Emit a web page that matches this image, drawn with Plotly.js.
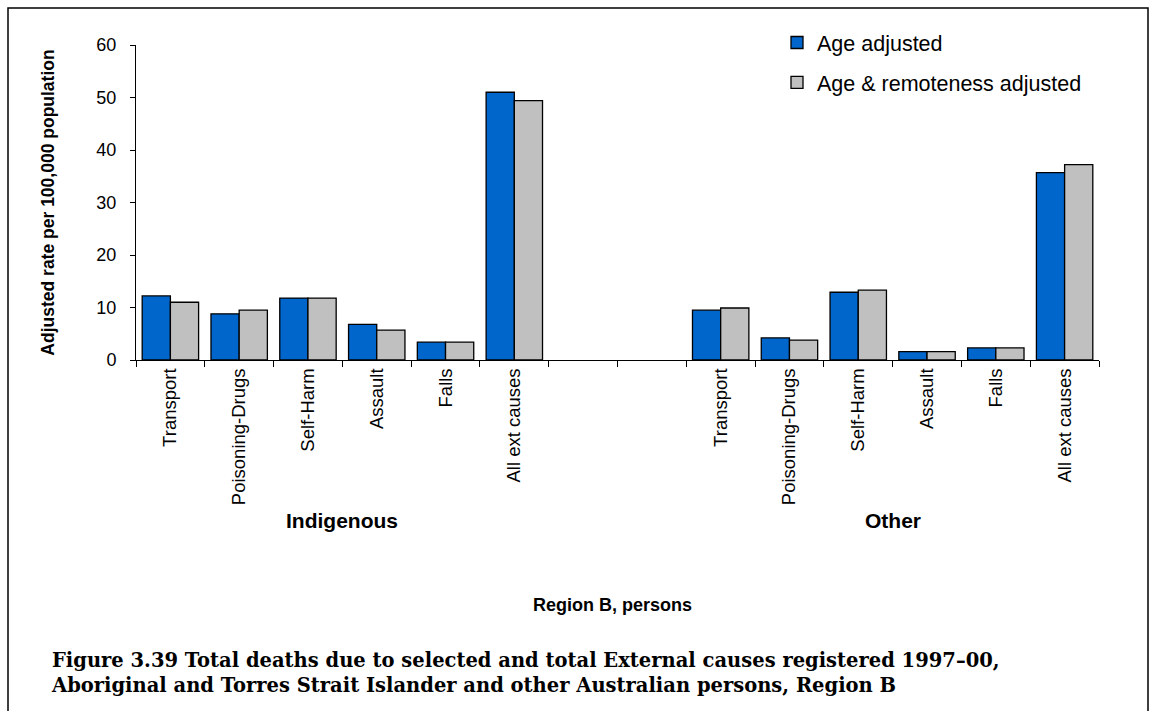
<!DOCTYPE html>
<html>
<head>
<meta charset="utf-8">
<script src="https://cdn.plot.ly/plotly-3.0.1.min.js"></script>
<style>html,body{margin:0;padding:0;background:#fff;}</style>
</head>
<body>
<div id="chart" style="width:1156px;height:711px;"></div>
<script>
// Data
const groups = ["Indigenous", "Other"];
const causes = ["Transport", "Poisoning-Drugs", "Self-Harm", "Assault", "Falls", "All ext causes"];
const seriesNames = ["Age adjusted", "Age & remoteness adjusted"];
const indigenousAge = [12.2, 8.8, 11.8, 6.8, 3.4, 51.0];
const indigenousAgeRemote = [11.0, 9.5, 11.8, 5.7, 3.4, 49.4];
const otherAge = [9.5, 4.2, 12.9, 1.6, 2.3, 35.7];
const otherAgeRemote = [9.9, 3.8, 13.3, 1.6, 2.3, 37.2];
const gapSlots = 2;

// Build category ids (unique) and tick labels
const catIds = [], catLabels = [];
causes.forEach(c => { catIds.push("Indigenous|" + c); catLabels.push(c); });
for (let i = 0; i < gapSlots; i++) { catIds.push("gap" + i); catLabels.push(""); }
causes.forEach(c => { catIds.push("Other|" + c); catLabels.push(c); });

const xInd = causes.map(c => "Indigenous|" + c);
const xOth = causes.map(c => "Other|" + c);

const colors = ["#0066CC", "#C0C0C0"];
const traces = [
  {name: seriesNames[0], x: xInd.concat(xOth), y: indigenousAge.concat(otherAge)},
  {name: seriesNames[1], x: xInd.concat(xOth), y: indigenousAgeRemote.concat(otherAgeRemote)}
].map((t, i) => Object.assign(t, {
  type: "bar",
  legendgroup: "g" + i,
  marker: {color: colors[i], line: {color: "#000", width: 1.3}},
  hoverinfo: "skip"
}));

const L = 136, R = 1099, T = 45, B = 360.5, W = 1156, H = 711;
const px = v => (v - L) / (R - L);
const py = v => (B - v) / (B - T);

const layout = {
  width: W, height: H,
  margin: {l: L, r: W - R, t: T, b: H - B, pad: 0},
  paper_bgcolor: "#fff", plot_bgcolor: "#fff",
  font: {family: "Liberation Sans, Arial, sans-serif", color: "#000", size: 18},
  barmode: "group",
  bargap: 0.18,
  bargroupgap: 0,
  showlegend: true,
  legend: {
    x: px(777), y: py(22), xanchor: "left", yanchor: "top",
    font: {size: 21.5}, tracegroupgap: 9, bgcolor: "rgba(0,0,0,0)", itemwidth: 30
  },
  xaxis: {
    type: "category",
    categoryorder: "array", categoryarray: catIds,
    tickmode: "array", tickvals: catIds, ticktext: catLabels,
    tickson: "boundaries",
    ticks: "outside", ticklen: 6, tickcolor: "#000", tickwidth: 1,
    tickangle: -90,
    tickfont: {size: 18.5},
    showline: true, linecolor: "#000", linewidth: 1,
    showgrid: false, zeroline: false, fixedrange: true
  },
  yaxis: {
    range: [0, 60], dtick: 10, tick0: 0,
    ticks: "outside", ticklen: 5, tickcolor: "#000",
    tickfont: {size: 18}, ticklabelstandoff: 10,
    showline: true, linecolor: "#000", linewidth: 1,
    showgrid: false, zeroline: false, fixedrange: true,
    title: {text: "<b>Adjusted rate per 100,000 population</b>", font: {size: 17.5}, standoff: 37}
  },
  annotations: [
    {text: "<b>" + groups[0] + "</b>", xref: "paper", yref: "paper",
     x: 3 / catIds.length, y: py(521), xanchor: "center", yanchor: "middle", showarrow: false, font: {size: 21}},
    {text: "<b>" + groups[1] + "</b>", xref: "paper", yref: "paper",
     x: (6 + gapSlots + 3) / catIds.length, y: py(521), xanchor: "center", yanchor: "middle", showarrow: false, font: {size: 21}},
    {text: "<b>Region B, persons</b>", xref: "paper", yref: "paper",
     x: px(612), y: py(606), xanchor: "center", yanchor: "middle", showarrow: false, font: {size: 18}},
    {text: "<b>Figure 3.39 Total deaths due to selected and total External causes registered 1997–00,<br>Aboriginal and Torres Strait Islander and other Australian persons, Region B</b>",
     xref: "paper", yref: "paper", x: px(49), y: py(674), xanchor: "left", yanchor: "middle", align: "left", showarrow: false,
     font: {family: "DejaVu Serif, Liberation Serif, serif", size: 19.5}}
  ],
  shapes: [
    {type: "rect", xref: "paper", yref: "paper",
     x0: px(8), x1: px(1148), y0: py(730), y1: py(8),
     line: {color: "#000", width: 1.5}, fillcolor: "rgba(0,0,0,0)"}
  ]
};

Plotly.newPlot("chart", traces, layout, {displayModeBar: false, staticPlot: true});
</script>
</body>
</html>
